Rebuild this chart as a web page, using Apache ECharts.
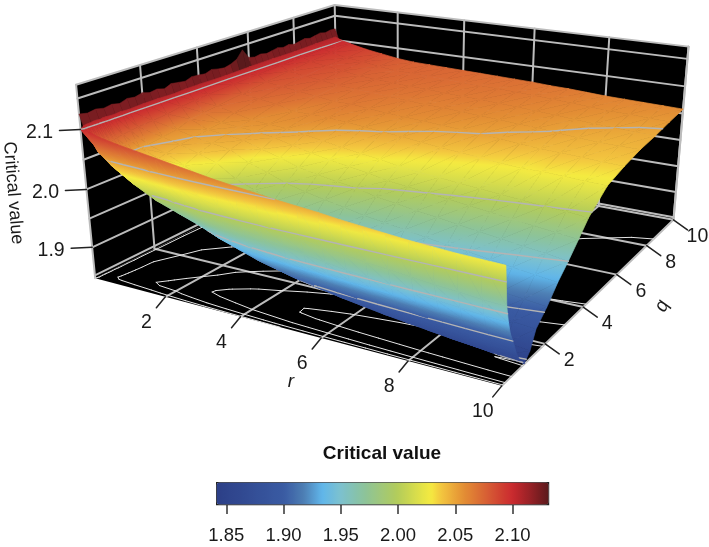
<!DOCTYPE html>
<html><head><meta charset="utf-8">
<style>html,body{margin:0;padding:0;background:#fff}#c{width:709px;height:547px}</style>
<script src="https://cdn.jsdelivr.net/npm/echarts@6/dist/echarts.min.js"></script>
</head><body><div id="c"></div>
<script>
// ---- data ----
const rValues=[0,.25,.5,1,1.5,2,2.5,3,3.5,4,4.5,5,5.5,6,6.5,7,7.5,8,8.5,9,9.5,10];
const qValues=[0,.1,.2,.3,.4,.5,.6,.7,.8,1,1.25,1.5,2,2.5,3,3.5,4,5,6,7,8,9,10];
// one row per r value, one entry per q value
const criticalValues=[
[2.100,2.104,2.105,2.105,2.106,2.106,2.105,2.106,2.106,2.105,2.106,2.105,2.106,2.106,2.105,2.106,2.106,2.105,2.106,2.106,2.105,2.106,2.106],
[2.098,2.075,2.062,2.064,2.066,2.068,2.070,2.072,2.073,2.075,2.077,2.078,2.080,2.082,2.086,2.088,2.090,2.092,2.094,2.096,2.097,2.098,2.100],
[2.093,2.072,2.052,2.040,2.042,2.043,2.044,2.045,2.046,2.048,2.049,2.051,2.054,2.057,2.066,2.069,2.072,2.077,2.082,2.086,2.090,2.093,2.096],
[2.087,2.064,2.042,2.020,2.013,2.018,2.022,2.025,2.028,2.033,2.038,2.042,2.047,2.050,2.053,2.056,2.065,2.072,2.078,2.082,2.085,2.087,2.089],
[2.082,2.056,2.033,2.014,2.000,1.990,1.995,2.000,2.004,2.012,2.020,2.027,2.037,2.045,2.050,2.054,2.057,2.068,2.074,2.078,2.081,2.083,2.084],
[2.077,2.045,2.023,2.005,1.995,1.982,1.973,1.976,1.980,1.989,2.000,2.011,2.027,2.040,2.046,2.051,2.055,2.060,2.070,2.074,2.076,2.078,2.079],
[2.072,2.034,2.010,1.992,1.982,1.973,1.963,1.956,1.958,1.965,1.977,1.989,2.006,2.023,2.036,2.046,2.053,2.060,2.066,2.071,2.074,2.075,2.076],
[2.067,2.024,1.999,1.980,1.970,1.960,1.950,1.942,1.941,1.948,1.960,1.974,1.993,2.012,2.027,2.039,2.048,2.059,2.066,2.070,2.072,2.074,2.075],
[2.062,2.016,1.990,1.971,1.960,1.950,1.939,1.931,1.928,1.933,1.945,1.960,1.980,2.000,2.017,2.031,2.042,2.056,2.063,2.067,2.070,2.073,2.074],
[2.058,2.009,1.983,1.963,1.951,1.940,1.928,1.920,1.917,1.920,1.932,1.949,1.970,1.992,2.010,2.025,2.037,2.053,2.060,2.065,2.069,2.072,2.073],
[2.054,2.003,1.977,1.957,1.945,1.933,1.920,1.912,1.907,1.909,1.922,1.940,1.962,1.985,2.005,2.020,2.032,2.050,2.058,2.063,2.067,2.070,2.072],
[2.050,1.998,1.972,1.951,1.939,1.927,1.914,1.904,1.899,1.898,1.912,1.931,1.955,1.979,2.000,2.015,2.028,2.047,2.056,2.062,2.066,2.069,2.071],
[2.047,1.993,1.967,1.946,1.934,1.922,1.909,1.899,1.893,1.891,1.905,1.924,1.949,1.972,1.992,2.008,2.022,2.043,2.054,2.060,2.065,2.068,2.070],
[2.044,1.988,1.962,1.941,1.929,1.917,1.904,1.894,1.887,1.884,1.899,1.918,1.943,1.967,1.987,2.004,2.018,2.040,2.052,2.058,2.063,2.067,2.069],
[2.040,1.984,1.957,1.937,1.925,1.913,1.900,1.890,1.882,1.878,1.893,1.913,1.938,1.962,1.982,2.000,2.015,2.037,2.050,2.056,2.061,2.065,2.067],
[2.037,1.980,1.953,1.933,1.921,1.909,1.896,1.886,1.877,1.872,1.887,1.908,1.933,1.957,1.978,1.996,2.012,2.034,2.047,2.054,2.059,2.063,2.066],
[2.034,1.977,1.950,1.930,1.918,1.905,1.892,1.882,1.873,1.867,1.881,1.904,1.928,1.952,1.973,1.992,2.009,2.031,2.044,2.052,2.057,2.061,2.064],
[2.031,1.973,1.946,1.926,1.914,1.901,1.888,1.878,1.869,1.862,1.876,1.900,1.923,1.948,1.968,1.988,2.006,2.028,2.041,2.049,2.054,2.059,2.062],
[2.029,1.970,1.943,1.923,1.911,1.898,1.884,1.874,1.865,1.857,1.871,1.896,1.918,1.943,1.964,1.984,2.003,2.029,2.040,2.046,2.052,2.057,2.061],
[2.027,1.967,1.940,1.920,1.908,1.895,1.881,1.871,1.862,1.853,1.867,1.892,1.913,1.938,1.959,1.980,2.000,2.027,2.038,2.044,2.050,2.056,2.060],
[2.026,1.964,1.937,1.917,1.905,1.892,1.878,1.868,1.859,1.849,1.862,1.888,1.909,1.934,1.955,1.976,1.998,2.025,2.036,2.043,2.048,2.054,2.059],
[2.025,1.962,1.935,1.915,1.903,1.890,1.876,1.866,1.857,1.846,1.858,1.885,1.905,1.930,1.950,1.972,1.995,2.024,2.035,2.043,2.047,2.053,2.058]
];
// jagged rim along r = 0, one reading every 0.25 of q
const rimValues=[2.125,2.122,2.124,2.121,2.123,2.120,2.124,2.122,2.125,2.121,2.123,2.119,2.124,2.122,2.120,2.124,2.123,2.121,2.125,2.122,2.120,2.123,2.128,2.142,2.124,2.121,2.123,2.120,2.122,2.124,2.121,2.123,2.120,2.122,2.124,2.121,2.123,2.125,2.122,2.124,2.123];
const rimStep=.25;
const contourLevels=[1.85,1.90,1.95,2.00,2.05,2.10];
const rTicks=[2,4,6,8,10];
const qTicks=[2,4,6,8,10];
const zTickLabels=[[2.1,'2.1'],[2.0,'2.0'],[1.9,'1.9']];
const zGrid=[1.85,1.90,1.95,2.00,2.05,2.10,2.15];
const colorTicks=[1.85,1.90,1.95,2.00,2.05,2.10];
// ---- box and colour range ----
const zBottom=1.845,zTop=2.172,colorMin=1.841,colorMax=2.131;
const colorStops=[[1.841,'#2c3f87'],[1.900,'#3a5ba3'],[1.917,'#4d7eb3'],[1.933,'#60b6ea'],[1.949,'#7cc1cf'],[1.970,'#8cc39a'],[1.999,'#b3cc5a'],[2.028,'#f5eb40'],[2.037,'#f3c63f'],[2.057,'#e38e34'],[2.077,'#d75f34'],[2.099,'#cb2a2f'],[2.118,'#8c1f24'],[2.131,'#5a1a1c']];
// camera calibration: box position (r,q,z) -> where it sits in the frame
const calibration=[
[0,0,zBottom,95,278],[2,0,zBottom,167,297],[4,0,zBottom,240,317],[6,0,zBottom,323,338],[8,0,zBottom,408,363],[10,0,zBottom,503,383],
[10,2,zBottom,543,345],[10,4,zBottom,583,307],[10,6,zBottom,617,276],[10,8,zBottom,647,247],[10,10,zBottom,673,220],
[0,2,zBottom,155,248],
[0,0,zTop,77,85],[0,2,zTop,140,65],[0,4,zTop,197,48],[0,6,zTop,247,32],[0,8,zTop,294,18],[0,10,zTop,335,5],
[2,10,zTop,398,12],[4,10,zTop,464,20],[6,10,zTop,534,30],[8,10,zTop,609,38],[10,10,zTop,688,45],
[0,0,2.1,80,129],[0,0,2.0,85,189],[0,0,1.9,91,247],[10,10,2.05,685,113],[10,10,1.9,675,190]
];
const FONT='"Liberation Sans",Arial,sans-serif';

function solve(A,b){const n=b.length;for(let i=0;i<n;i++){let p=i;for(let k=i+1;k<n;k++)if(Math.abs(A[k][i])>Math.abs(A[p][i]))p=k;[A[i],A[p]]=[A[p],A[i]];[b[i],b[p]]=[b[p],b[i]];for(let k=i+1;k<n;k++){const f=A[k][i]/A[i][i];for(let j=i;j<n;j++)A[k][j]-=f*A[i][j];b[k]-=f*b[i];}}const x=new Array(n);for(let i=n-1;i>=0;i--){let s=b[i];for(let j=i+1;j<n;j++)s-=A[i][j]*x[j];x[i]=s/A[i][i];}return x;}
const norm=(r,q,z)=>[r/10,q/10,(z-zBottom)/(zTop-zBottom)];
const cam=(()=>{const A=Array.from({length:11},()=>new Array(11).fill(0)),b=new Array(11).fill(0);
 const add=(row,v)=>{for(let i=0;i<11;i++){b[i]+=row[i]*v;for(let j=0;j<11;j++)A[i][j]+=row[i]*row[j];}};
 calibration.forEach(([r,q,z,x,y])=>{const[R,Q,Z]=norm(r,q,z),X=x/500,Y=y/500;
  add([R,Q,Z,1,0,0,0,0,-X*R,-X*Q,-X*Z],X);add([0,0,0,0,R,Q,Z,1,-Y*R,-Y*Q,-Y*Z],Y);});
 return solve(A,b);})();
function project(r,q,z){const[R,Q,Z]=norm(r,q,z),w=cam[8]*R+cam[9]*Q+cam[10]*Z+1;
 return[500*(cam[0]*R+cam[1]*Q+cam[2]*Z+cam[3])/w,500*(cam[4]*R+cam[5]*Q+cam[6]*Z+cam[7])/w];}
function colorOf(z){const s=colorStops;if(z<=s[0][0])return s[0][1];for(let i=1;i<s.length;i++)if(z<=s[i][0]){return echarts.color.lerp((z-s[i-1][0])/(s[i][0]-s[i-1][0]),[s[i-1][1],s[i][1]]);}return s[s.length-1][1];}
const palette=Array.from({length:117},(_,i)=>colorOf(colorMin+(colorMax-colorMin)*i/116));

function line(a,b,stroke,w){return{type:'line',shape:{x1:a[0],y1:a[1],x2:b[0],y2:b[1]},style:{stroke,lineWidth:w,lineCap:'round'},silent:true};}
function poly(pts,fill,stroke,w){return{type:'polygon',shape:{points:pts},style:{fill,stroke:stroke||null,lineWidth:w||0},silent:true};}
function text(str,x,y,opt){opt=opt||{};return{type:'text',x,y,rotation:opt.rot||0,silent:true,style:{text:str,fill:'#1a1a1a',font:(opt.font||'19.5px '+FONT),align:'center',verticalAlign:'middle'}};}
// marching squares on one cell; returns segments [[r,q],[r,q]] for a level
function cellContour(i,j,L){const r0=rValues[i],r1=rValues[i+1],q0=qValues[j],q1=qValues[j+1],Z=criticalValues;
 const c=[[r0,q0,Z[i][j]],[r1,q0,Z[i+1][j]],[r1,q1,Z[i+1][j+1]],[r0,q1,Z[i][j+1]]],pts=[];
 for(let k=0;k<4;k++){const a=c[k],b=c[(k+1)%4];if((a[2]<L)!==(b[2]<L)){const t=(L-a[2])/(b[2]-a[2]);pts.push([a[0]+t*(b[0]-a[0]),a[1]+t*(b[1]-a[1])]);}}
 const seg=[];if(pts.length>=2)seg.push([pts[0],pts[1]]);if(pts.length===4)seg.push([pts[2],pts[3]]);return seg;}

const G='#bcbcbc';
function renderBox(){const ch=[];
 const P=project,b=zBottom,t=zTop;
 ch.push(poly([P(0,0,b),P(0,10,b),P(0,10,t),P(0,0,t)],'#000'));
 ch.push(poly([P(0,10,b),P(10,10,b),P(10,10,t),P(0,10,t)],'#000'));
 ch.push(poly([P(0,0,b),P(10,0,b),P(10,10,b),P(0,10,b)],'#000'));
 zGrid.forEach(z=>{ch.push(line(P(0,0,z),P(0,10,z),G,2));ch.push(line(P(0,10,z),P(10,10,z),G,2));});
 qTicks.forEach(q=>{ch.push(line(P(0,q,b),P(0,q,t),G,2));ch.push(line(P(0,q,b),P(10,q,b),G,2));});
 rTicks.forEach(r=>{ch.push(line(P(r,10,b),P(r,10,t),G,2));ch.push(line(P(r,0,b),P(r,10,b),G,2));});
 ch.push(line(P(0,0,b),P(0,0,t),G,2));ch.push(line(P(10,10,b),P(10,10,t),G,2));
 ch.push(line(P(0,0,t),P(0,10,t),G,2));ch.push(line(P(0,10,t),P(10,10,t),G,2));
 // contour lines on the floor
 for(let i=0;i<rValues.length-1;i++)for(let j=0;j<qValues.length-1;j++)contourLevels.forEach(L=>{
  cellContour(i,j,L).forEach(s=>ch.push(line(P(s[0][0],s[0][1],b),P(s[1][0],s[1][1],b),'#e4e4e4',1)));});
 return{type:'group',children:ch};}
function renderTicks(){const ch=[],P=project,b=zBottom,K='#222';
 rTicks.forEach(r=>{const a=P(r,0,b);ch.push(line(a,[a[0]-9,a[1]+11],K,1.5));ch.push(text(String(r),a[0]-19,a[1]+26));});
 qTicks.forEach(q=>{const a=P(10,q,b);ch.push(line(a,[a[0]+14,a[1]+10],K,1.5));ch.push(text(String(q),a[0]+24,a[1]+17));});
 zTickLabels.forEach(([z,s])=>{const a=P(0,0,z);ch.push(line(a,[a[0]-21,a[1]+1],K,1.5));ch.push(text(s,a[0]-41,a[1]+3));});
 ch.push(text('Critical value',13,193,{rot:-1.49,font:'18px '+FONT}));
 ch.push(text('r',291,382,{font:'italic 19px '+FONT}));
 ch.push(text('q',662,306,{rot:1.15,font:'italic 19px '+FONT}));
 return{type:'group',children:ch};}
function renderRim(params,api){const k=api.value(0),q0=k*rimStep,q1=(k+1)*rimStep,P=project;
 const z0=rimValues[k],z1=rimValues[k+1];
 return poly([P(0,q0,z0),P(0,q1,z1),P(.12,q1,2.1),P(.12,q0,2.1)],colorOf((z0+z1)/2),colorOf((z0+z1)/2),.5);}
// shade a triangle exactly: the gradient runs across its lines of equal value
function triangle(v){const s=v.slice().sort((a,b)=>a.z-b.z),lo=s[0],mid=s[1],hi=s[2];
 const pts=v.map(p=>p.p),dz=hi.z-lo.z;
 if(dz<1e-4){const c=colorOf(lo.z);return poly(pts,c,c,.7);}
 const t=(mid.z-lo.z)/dz,px=lo.p[0]+t*(hi.p[0]-lo.p[0]),py=lo.p[1]+t*(hi.p[1]-lo.p[1]);
 let dx=mid.p[0]-px,dy=mid.p[1]-py,len=Math.hypot(dx,dy);
 let ex=hi.p[0],ey=hi.p[1];
 if(len>1e-3){dx/=len;dy/=len;const nx=-dy,ny=dx,h=(hi.p[0]-lo.p[0])*nx+(hi.p[1]-lo.p[1])*ny;ex=lo.p[0]+nx*h;ey=lo.p[1]+ny*h;}
 const n=8,stops=[];for(let k=0;k<=n;k++)stops.push({offset:k/n,color:colorOf(lo.z+dz*k/n)});
 const fill=new echarts.graphic.LinearGradient(lo.p[0],lo.p[1],ex,ey,stops,true);
 return poly(pts,fill,fill,.7);}
function renderCell(params,api){const i=api.value(0),j=api.value(1),Z=criticalValues,r0=rValues[i],r1=rValues[i+1],q0=qValues[j],q1=qValues[j+1];
 const c=[[r0,q0,Z[i][j]],[r1,q0,Z[i+1][j]],[r1,q1,Z[i+1][j+1]],[r0,q1,Z[i][j+1]]].map(p=>({p:project(p[0],p[1],p[2]),z:p[2]}));
 const ch=[triangle([c[0],c[1],c[2]]),triangle([c[0],c[2],c[3]])];
 contourLevels.forEach(L=>cellContour(i,j,L).forEach(s=>ch.push(line(project(s[0][0],s[0][1],L),project(s[1][0],s[1][1],L),'#b4b4b4',1.4))));
 return{type:'group',children:ch};}

const cellData=[];
for(let i=0;i<rValues.length-1;i++)for(let j=qValues.length-2;j>=0;j--)cellData.push([i,j,(criticalValues[i][j]+criticalValues[i+1][j]+criticalValues[i][j+1]+criticalValues[i+1][j+1])/4]);
const rimData=rimValues.slice(0,-1).map((z,k)=>[k,z]);

const chart=echarts.init(document.getElementById('c'),null,{renderer:'canvas'});
chart.setOption({
 animation:false,backgroundColor:'#fff',
 title:{text:'Critical value',left:382,top:444,textAlign:'center',padding:0,textStyle:{fontFamily:FONT,fontWeight:'bold',fontSize:19,color:'#111',lineHeight:19}},
 grid:{left:216,top:482,width:332,height:22,show:false},
 xAxis:{type:'value',min:colorMin,max:colorMax,position:'bottom',splitLine:{show:false},axisLine:{show:false},
  axisTick:{show:true,length:10,customValues:colorTicks,lineStyle:{color:'#333',width:1.5}},
  axisLabel:{show:true,margin:22,customValues:colorTicks,formatter:v=>v.toFixed(2),fontFamily:FONT,fontSize:18.5,color:'#1a1a1a',hideOverlap:false,showMinLabel:true,showMaxLabel:true}},
 yAxis:{type:'value',show:false,min:0,max:1},
 visualMap:{type:'continuous',orient:'horizontal',left:216,top:482,itemWidth:22,itemHeight:332,padding:0,min:colorMin,max:colorMax,calculable:false,realtime:false,hoverLink:false,showLabel:false,text:null,seriesIndex:[2],dimension:2,inRange:{color:palette},borderColor:'#222',borderWidth:1.2,z:5},
 series:[
  {type:'custom',coordinateSystem:'none',silent:true,z:1,data:[[0]],renderItem:renderBox},
  {type:'custom',coordinateSystem:'none',silent:true,z:2,data:rimData,renderItem:renderRim},
  {type:'custom',coordinateSystem:'none',silent:true,z:3,data:cellData,renderItem:renderCell,encode:{value:2}},
  {type:'custom',coordinateSystem:'none',silent:true,z:4,data:[[0]],renderItem:renderTicks}
 ]
});
</script></body></html>
